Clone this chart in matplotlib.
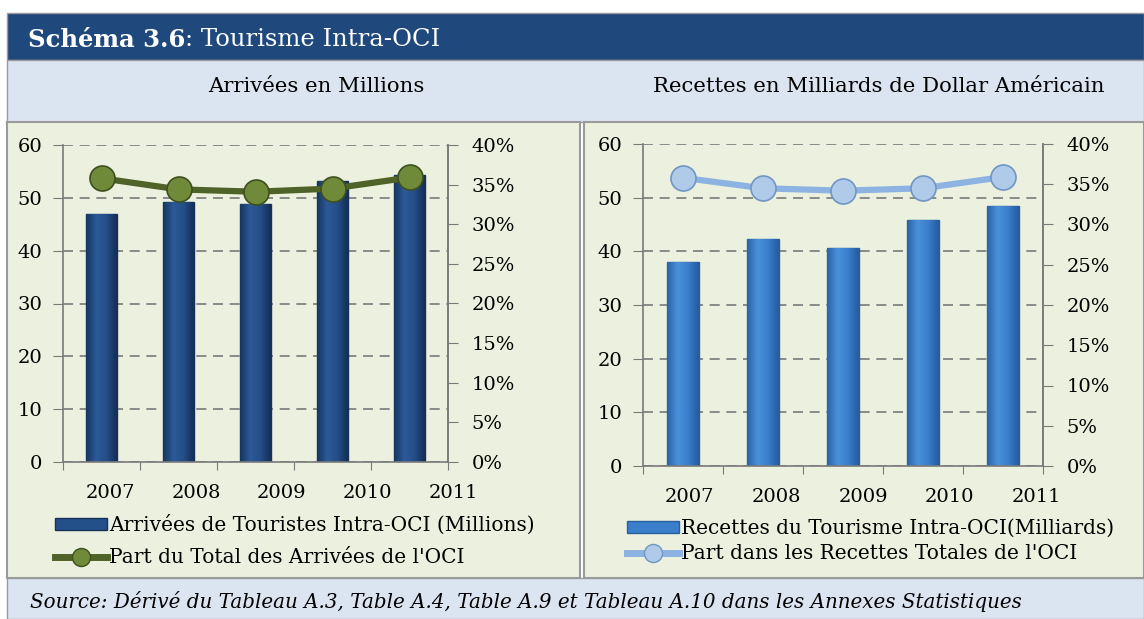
import numpy as np
import matplotlib
matplotlib.use("Agg")
import matplotlib.pyplot as plt
from matplotlib.patches import Rectangle, Patch
from matplotlib.lines import Line2D
from matplotlib.colors import LinearSegmentedColormap
from matplotlib.ticker import PercentFormatter

years = ["2007", "2008", "2009", "2010", "2011"]
arrivals = [47.0, 49.2, 48.8, 53.2, 54.3]          # millions
arrivals_share = [35.8, 34.4, 34.1, 34.5, 35.9]    # % of OIC total
receipts = [38.1, 42.3, 40.6, 45.9, 48.4]          # billion USD
receipts_share = [35.8, 34.5, 34.2, 34.5, 35.9]    # % of OIC total

W, H = 1144, 619
plt.rcParams["font.family"] = ["DejaVu Serif"]

HEADER_BLUE = "#1F497D"
BAND_BLUE = "#DBE5F1"
PANEL_BG = "#EBF1DE"
FRAME = "#9A9A9A"
GRID = "#7A7A7A"


def fx(px):
    return px / W


def fy(py):
    return 1 - py / H


def box(x0, y0, x1, y1):
    # pixel box -> figure fraction [left, bottom, width, height]
    return [fx(x0), fy(y1), fx(x1 - x0), (y1 - y0) / H]


def band(x0, y0, x1, y1, color, lw=1):
    fig.patches.append(Rectangle((fx(x0), fy(y1)), fx(x1 - x0), (y1 - y0) / H, transform=fig.transFigure,
                                 facecolor=color, edgecolor=FRAME, lw=lw, zorder=-10))


fig = plt.figure(figsize=(W / 100, H / 100), dpi=100)
fig.patch.set_facecolor("white")

band(7, 13, 1144, 60, HEADER_BLUE)
band(7, 60, 1144, 122, BAND_BLUE)
band(7, 122, 580, 578, PANEL_BG, 1.5)
band(584, 122, 1144, 578, PANEL_BG, 1.5)
band(7, 578, 1144, 619, BAND_BLUE)

# header title
t1 = fig.text(fx(28), fy(40), "Schéma 3.6", color="white", fontsize=17.5, fontweight="bold", va="center")
renderer = fig.canvas.get_renderer()
bb = t1.get_window_extent(renderer)
fig.text(bb.x1 / W, fy(40), ": Tourisme Intra-OCI", color="white", fontsize=17.5, va="center")

fig.text(fx(316), fy(87), "Arrivées en Millions", fontsize=15.3, ha="center", va="center")
fig.text(fx(879), fy(87), "Recettes en Milliards de Dollar Américain", fontsize=15.3, ha="center", va="center")
fig.text(fx(30), fy(602), "Source: Dérivé du Tableau A.3, Table A.4, Table A.9 et Tableau A.10 dans les Annexes Statistiques",
         fontsize=14.3, style="italic", va="center")


def shade_bars(ax, bars, colors):
    cmap = LinearSegmentedColormap.from_list("bar", colors)
    grad = np.linspace(0, 1, 64).reshape(1, -1)
    for b in bars:
        x0, y0 = b.get_xy()
        im = ax.imshow(grad, cmap=cmap, extent=[x0, x0 + b.get_width(), y0, y0 + b.get_height()],
                       aspect="auto", zorder=b.get_zorder() + 0.1, interpolation="bicubic")
        im.set_clip_path(b)


def draw_panel(axbox, labbox, values, share, bar_colors, bar_edge, line_color, mk_face, mk_edge):
    ax = fig.add_axes(axbox)
    ax.patch.set_visible(False)
    x = np.arange(len(years))
    bars = ax.bar(x, values, width=0.4, color=bar_colors[1], edgecolor=bar_edge, linewidth=1, zorder=2)
    shade_bars(ax, bars, bar_colors)
    ax.set_xlim(-0.5, len(years) - 0.5)
    ax.set_ylim(0, 60)
    ax.set_yticks(range(0, 61, 10))
    ax.set_xticks(np.arange(-0.5, len(years), 1))
    ax.set_xticklabels([])
    ax.tick_params(axis="x", length=6, color=GRID, direction="out")
    ax.tick_params(axis="y", length=7, color=GRID, direction="out", labelsize=14, pad=8)
    ax.grid(axis="y", color=GRID, linestyle=(0, (6, 4)), linewidth=1.2)
    ax.set_axisbelow(True)
    ax.spines["top"].set_visible(False)
    for s in ["left", "bottom", "right"]:
        ax.spines[s].set_color(GRID)
        ax.spines[s].set_linewidth(1.2)

    ax2 = ax.twinx()
    ax2.plot(x, share, color=line_color, lw=4.5, marker="o", markersize=18,
             markerfacecolor=mk_face, markeredgecolor=mk_edge, markeredgewidth=1.2, zorder=5)
    ax2.set_ylim(0, 40)
    ax2.set_yticks(range(0, 41, 5))
    ax2.yaxis.set_major_formatter(PercentFormatter(decimals=0))
    ax2.tick_params(axis="y", length=7, color=GRID, direction="out", labelsize=14, pad=10)
    for s in ["top", "left", "bottom"]:
        ax2.spines[s].set_visible(False)
    ax2.spines["right"].set_color(GRID)
    ax2.spines["right"].set_linewidth(1.2)

    # year labels row (sits a little apart from the bars, as in the source)
    lab = fig.add_axes(labbox)
    lab.set_xlim(-0.5, len(years) - 0.5)
    lab.set_xticks(x)
    lab.set_xticklabels(years, fontsize=14)
    lab.tick_params(axis="x", length=0, pad=0)
    lab.set_yticks([])
    lab.patch.set_visible(False)
    for s in lab.spines.values():
        s.set_visible(False)
    return ax


# left: arrivals
draw_panel(box(63, 145, 448, 462), box(68, 472, 496, 484), arrivals, arrivals_share,
           ["#17365F", "#2C5A98", "#244E88", "#142F55"], "#16325A",
           "#4F6228", "#6F8B3A", "#3E4F1E")
# right: receipts
draw_panel(box(643, 144, 1043, 466), box(646, 476, 1080, 488), receipts, receipts_share,
           ["#2A64A8", "#4A90DB", "#3B7ECB", "#255C9E"], "#2A5F9E",
           "#8DB3E2", "#B0CBEA", "#7096C4")

# legends
h_arr = [Patch(facecolor="#24508A", edgecolor="#16325A"),
         Line2D([], [], color="#4F6228", lw=5, marker="o", markersize=13,
                markerfacecolor="#6F8B3A", markeredgecolor="#3E4F1E")]
fig.legend(h_arr, ["Arrivées de Touristes Intra-OCI (Millions)", "Part du Total des Arrivées de l'OCI"],
           loc="upper left", bbox_to_anchor=(fx(55), fy(515)), frameon=False, fontsize=14.5,
           handlelength=2.6, handleheight=0.5, handletextpad=0.1, labelspacing=0.65,
           borderpad=0, borderaxespad=0)
h_rec = [Patch(facecolor="#3B7ECB", edgecolor="#2A5F9E"),
         Line2D([], [], color="#8DB3E2", lw=5, marker="o", markersize=13,
                markerfacecolor="#B0CBEA", markeredgecolor="#7096C4")]
fig.legend(h_rec, ["Recettes du Tourisme Intra-OCI(Milliards)", "Part dans les Recettes Totales de l'OCI"],
           loc="upper left", bbox_to_anchor=(fx(627), fy(519)), frameon=False, fontsize=14.5,
           handlelength=2.6, handleheight=0.5, handletextpad=0.1, labelspacing=0.3,
           borderpad=0, borderaxespad=0)

fig.savefig("out.png", dpi=100)
